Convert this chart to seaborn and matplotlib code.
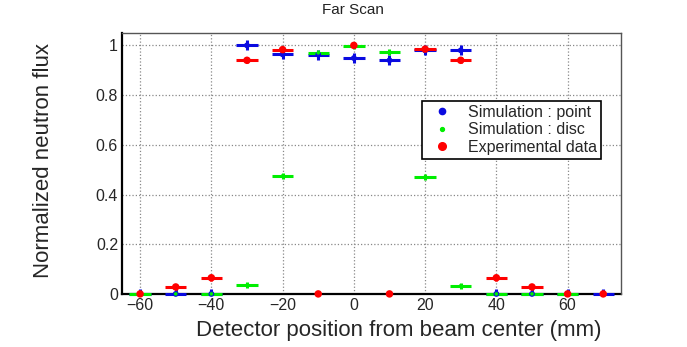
import numpy as np
import pandas as pd
import matplotlib
matplotlib.use("Agg")
import matplotlib.pyplot as plt
import seaborn as sns
from matplotlib.ticker import MultipleLocator, FormatStrFormatter

# detector positions (mm)
pos = [-60, -50, -40, -30, -20, -10, 0, 10, 20, 30, 40, 50, 60, 70]

sim_point = [0, 0, 0, 1.0, 0.964, 0.963, 0.949, 0.94, 0.98, 0.98, 0, 0, 0, 0]
sim_disc = [0, 0, 0, 0.035, 0.475, 0.97, 0.998, 0.973, 0.47, 0.033, 0, 0, 0, 0]
exp_data = [0, 0.028, 0.065, 0.94, 0.983, 0, 1.0, 0, 0.985, 0.94, 0.065, 0.028, 0, 0]

# half-widths of the horizontal bars (mm)
xerr_point = [3, 3, 3, 3, 3, 3, 3, 3, 3, 3, 3, 3, 3, 3]
xerr_disc = [3, 0, 3, 3, 3, 3, 3, 3, 3, 3, 3, 3, 3, 0]
xerr_exp = [0, 3, 3, 3, 3, 0, 0, 0, 3, 3, 3, 3, 0, 0]

sns.set_style("white")
plt.rcParams['font.family'] = ['Liberation Sans', 'DejaVu Sans']

fig = plt.figure(figsize=(6.87, 3.47), dpi=100)
ax = fig.add_axes([0.178, 0.153, 0.726, 0.752])

series = [
    ("Simulation : point", sim_point, xerr_point, "#0a0ae0", 4.2, 0.02),
    ("Simulation : disc", sim_disc, xerr_disc, "#00ee00", 2.6, 0.012),
    ("Experimental data", exp_data, xerr_exp, "#ff0000", 5.4, 0.012),
]

for name, vals, xe, col, ms, ye in series:
    eb = ax.errorbar(pos, vals, xerr=xe, yerr=ye, fmt="none", ecolor=col,
                     elinewidth=2.2, capsize=0, zorder=3)
    eb[2][0].set_clip_on(False)  # horizontal bars only

rows = []
for name, vals, xe, col, ms, ye in series:
    for p, v in zip(pos, vals):
        rows.append({"pos": p, "flux": v, "series": name})
df = pd.DataFrame(rows)

palette = {s[0]: s[3] for s in series}
sizes = {s[0]: s[4] ** 2 for s in series}
sns.scatterplot(data=df, x="pos", y="flux", hue="series", size="series",
                sizes=sizes, palette=palette, edgecolor="none", ax=ax,
                zorder=4, legend=False, clip_on=False)

ax.set_xlim(-65, 75)
ax.set_ylim(0, 1.05)
ax.xaxis.set_major_locator(MultipleLocator(20))
ax.xaxis.set_minor_locator(MultipleLocator(5))
ax.yaxis.set_major_locator(MultipleLocator(0.2))
ax.yaxis.set_minor_locator(MultipleLocator(0.05))
ax.yaxis.set_major_formatter(FormatStrFormatter("%g"))
ax.tick_params(which="major", direction="in", length=9, width=1.2,
               labelsize=11.5, top=False, right=False, pad=3)
ax.tick_params(which="minor", direction="in", length=5, width=1,
               top=False, right=False)
ax.grid(True, which="major", linestyle=":", color="#888888", linewidth=0.9)

for side in ["left", "bottom"]:
    ax.spines[side].set_linewidth(1.6)
    ax.spines[side].set_color("black")
    ax.spines[side].set_zorder(2)
for side in ["top", "right"]:
    ax.spines[side].set_linewidth(1.0)
    ax.spines[side].set_color("#555555")

ax.set_xlabel("Detector position from beam center (mm)", fontsize=16)
ax.xaxis.set_label_coords(0.96, -0.1, transform=ax.transAxes)
ax.xaxis.label.set_horizontalalignment("right")
ax.xaxis.label.set_verticalalignment("top")
ax.set_ylabel("Normalized neutron flux", fontsize=16)
ax.yaxis.set_label_coords(-0.137, 0.96, transform=ax.transAxes)
ax.yaxis.label.set_horizontalalignment("right")

fig.text(0.514, 0.97, "Far Scan", ha="center", va="center", fontsize=11,
         color="#222222")

handles = [
    plt.Line2D([], [], marker="o", ls="none", color="#0a0ae0", markersize=4.5),
    plt.Line2D([], [], marker="o", ls="none", color="#00ee00", markersize=2.8),
    plt.Line2D([], [], marker="o", ls="none", color="#ff0000", markersize=5.5),
]
leg = ax.legend(handles, [s[0] for s in series], loc="upper left",
                bbox_to_anchor=(0.585, 0.77), fontsize=11.5, frameon=True,
                fancybox=False, edgecolor="black", framealpha=1,
                handletextpad=0.6, borderpad=0.25, labelspacing=0.15)
leg.get_frame().set_linewidth(1.2)
leg.set_zorder(10)

fig.savefig("out.png", dpi=100)
